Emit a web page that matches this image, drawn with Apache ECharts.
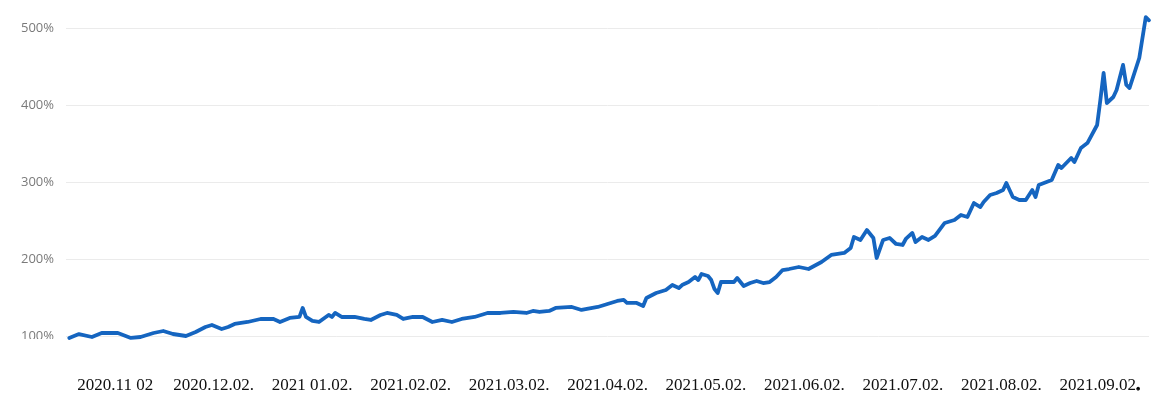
<!DOCTYPE html>
<html>
<head>
<meta charset="utf-8">
<script src="https://cdn.jsdelivr.net/npm/echarts@6/dist/echarts.min.js"></script>
<style>
  html, body { margin: 0; padding: 0; background: #ffffff; }
  #chart { width: 1159px; height: 408px; }
</style>
</head>
<body>
<div id="chart"></div>
<script>
// Month labels shown under the chart (as printed in the reference)
const monthLabels = ['2020.11 02', '2020.12.02.', '2021 01.02.', '2021.02.02.', '2021.03.02.',
  '2021.04.02.', '2021.05.02.', '2021.06.02.', '2021.07.02.', '2021.08.02.', '2021.09.02.'];

// Days since 2020-10-18 (start of the plotted period)
const days = [1, 4, 8, 11, 16, 20, 23, 27, 30, 33, 37, 40, 43, 45, 48, 50, 52, 56, 60, 64,
  66, 69, 72, 73, 74, 76, 78, 81, 82, 83, 85, 89, 92, 94, 97, 99, 102, 104, 107, 110,
  113, 116, 119, 122, 126, 130, 134, 138, 142, 144, 146, 149, 151, 156, 159, 164, 168, 170, 172, 173,
  176, 178, 179, 182, 185, 187, 189, 190, 192, 194, 195, 196, 198, 199, 200, 201, 202, 206, 207, 209,
  211, 213, 215, 217, 219, 221, 223, 226, 229, 233, 236, 240, 242, 243, 245, 247, 249, 250, 252, 254,
  256, 258, 259, 261, 262, 264, 266, 268, 271, 274, 276, 278, 280, 282, 283, 285, 287, 289, 290, 292,
  294, 296, 298, 299, 300, 304, 306, 307, 310, 311, 313, 315, 318, 319, 320, 321, 323, 324, 326, 327,
  328, 331, 333, 334];

// Cumulative value (%)
const values = [97.5, 102.5, 98.7, 103.9, 103.9, 97.5, 98.7, 103.9, 106.5, 102.6, 100, 105.2, 111.7, 114.3, 109.1, 111.7, 115.6, 118.2, 122.1, 122.1,
  118.2, 123.4, 124.7, 136.4, 124.7, 119.5, 118.2, 127.3, 124.7, 129.9, 124.7, 124.7, 122.1, 120.8, 127.3, 129.9, 127.3, 122.1, 124.7, 124.7,
  118.2, 120.8, 118.2, 122.1, 124.7, 129.9, 129.9, 131.2, 129.9, 132.5, 131.2, 132.5, 136.4, 137.7, 133.8, 137.7, 142.9, 145.5, 146.8, 142.9,
  142.9, 139, 149.4, 155.8, 159.7, 166.2, 162.3, 166.2, 170.1, 176.6, 172.7, 180.5, 177.9, 172.7, 161, 155.8, 170.1, 170.1, 175.3, 164.9,
  168.8, 171.4, 168.8, 170.1, 176.6, 185.7, 187, 189.6, 187, 196.1, 205.2, 207.8, 214.3, 228.6, 224.7, 237.7, 227.3, 201.3, 224.7, 227.3,
  219.5, 218.2, 226, 233.8, 222.1, 228.6, 224.7, 229.9, 246.8, 250.6, 257.1, 254.5, 272.7, 267.5, 274, 283.1, 285.7, 289.6, 298.7, 280.5,
  276.6, 276.6, 289.6, 280.5, 296.1, 302.6, 322.1, 318.2, 331.2, 326, 344.2, 350.6, 374, 406.5, 441.6, 402.6, 410.4, 419.5, 452, 426,
  422.1, 461, 514, 510];

const yTicks = [100, 200, 300, 400, 500];

const seriesData = days.map((d, i) => [d, values[i]]);

const chart = echarts.init(document.getElementById('chart'), null, { renderer: 'canvas' });
chart.setOption({
  animation: false,
  backgroundColor: '#ffffff',
  grid: { left: 66, right: 10, top: 28, bottom: 72, containLabel: false },
  xAxis: [
    {
      type: 'value', min: 0, max: 334, show: false
    },
    {
      type: 'category', position: 'bottom', data: monthLabels, boundaryGap: true,
      axisLine: { show: false }, axisTick: { show: false }, splitLine: { show: false },
      axisLabel: {
        margin: 40, color: '#111', fontSize: 17, lineHeight: 20,
        fontFamily: '"Liberation Serif", "DejaVu Serif", serif',
        interval: 0,
        formatter: function (v, i) {
          if (i === monthLabels.length - 1 && v.endsWith('.')) {
            return '{a|' + v.slice(0, -1) + '}{b|.}';
          }
          return '{a|' + v + '}';
        },
        rich: {
          a: { fontSize: 17, lineHeight: 20, color: '#111', fontFamily: '"Liberation Serif", serif' },
          b: { fontSize: 17, lineHeight: 20, fontWeight: 'bold', color: '#000', fontFamily: '"Liberation Serif", serif',
               textStrokeWidth: 1, textBorderColor: '#000', textBorderWidth: 0.8 }
        }
      }
    }
  ],
  yAxis: {
    type: 'value', min: yTicks[0], max: yTicks[yTicks.length - 1], interval: 100,
    axisLine: { show: false }, axisTick: { show: false },
    axisLabel: { formatter: '{value}%', color: '#7a7a7a', fontSize: 13, margin: 12,
      fontFamily: '"Open Sans", "Noto Sans", sans-serif' },
    splitLine: { show: true, lineStyle: { color: '#ebebeb', width: 1 } }
  },
  series: [{
    type: 'line', xAxisIndex: 0, data: seriesData, showSymbol: false, symbol: 'none',
    clip: false, smooth: false,
    lineStyle: { color: '#1565C0', width: 3.8, join: 'round', cap: 'round' },
    z: 5
  }],
  graphic: [{
    type: 'rect', left: 0, top: 339, z: 100,
    shape: { width: 62, height: 28 },
    style: { fill: '#ffffff' }
  }]
});
</script>
</body>
</html>
